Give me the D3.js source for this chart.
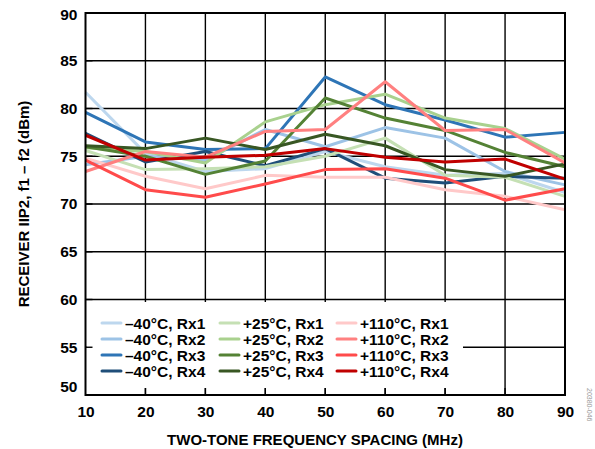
<!DOCTYPE html>
<html>
<head>
<meta charset="utf-8">
<script src="https://cdn.jsdelivr.net/npm/d3@7"></script>
<style>
  body { margin: 0; background: #fff; }
  svg { display: block; font-family: "Liberation Sans", Arial, sans-serif; }
</style>
</head>
<body>
<svg id="chart" width="595" height="449"></svg>
<script>
const freqs = [10, 20, 30, 40, 50, 60, 70, 80, 90];

const m40Rx1 = [81.7, 75.3, 73.4, 73.7, 75.5, 73.9, 73.0, 73.2, 71.2];
const m40Rx2 = [74.1, 75.0, 74.6, 77.8, 76.0, 78.0, 76.9, 73.4, 72.0];
const m40Rx3 = [79.6, 76.5, 75.7, 75.8, 83.3, 80.4, 78.8, 77.0, 77.5];
const m40Rx4 = [77.4, 74.4, 75.5, 74.0, 75.8, 72.7, 72.2, 72.9, 72.7];

const p25Rx1 = [75.6, 73.6, 73.7, 73.9, 75.0, 76.9, 73.0, 72.8, 70.8];
const p25Rx2 = [75.9, 75.5, 74.3, 78.6, 80.4, 81.5, 79.0, 77.9, 74.7];
const p25Rx3 = [76.0, 75.0, 73.1, 74.5, 81.1, 79.0, 77.7, 75.4, 73.9];
const p25Rx4 = [76.1, 75.8, 76.9, 75.7, 77.3, 76.1, 73.6, 72.9, 74.2];

const p110Rx1 = [74.8, 72.9, 71.6, 73.0, 72.8, 72.8, 71.5, 70.8, 69.4];
const p110Rx2 = [73.4, 75.5, 74.9, 77.6, 77.8, 82.8, 77.7, 77.8, 74.3];
const p110Rx3 = [74.6, 71.5, 70.7, 72.1, 73.6, 73.7, 72.7, 70.4, 71.6];
const p110Rx4 = [77.2, 74.6, 74.9, 75.1, 75.8, 74.9, 74.4, 74.7, 72.6];

const seriesNames = [
  "\u201340\u00B0C, Rx1", "\u201340\u00B0C, Rx2", "\u201340\u00B0C, Rx3", "\u201340\u00B0C, Rx4",
  "+25\u00B0C, Rx1", "+25\u00B0C, Rx2", "+25\u00B0C, Rx3", "+25\u00B0C, Rx4",
  "+110\u00B0C, Rx1", "+110\u00B0C, Rx2", "+110\u00B0C, Rx3", "+110\u00B0C, Rx4"
];
const seriesValues = [m40Rx1, m40Rx2, m40Rx3, m40Rx4, p25Rx1, p25Rx2, p25Rx3, p25Rx4,
  p110Rx1, p110Rx2, p110Rx3, p110Rx4];
const seriesColors = ["#bdd7ee", "#9dc3e6", "#2e75b6", "#1f4e79",
  "#c5e0b4", "#a9d18e", "#548235", "#385723",
  "#ffc9c9", "#ff8080", "#ff4b4b", "#c00000"];

const xTicks = [10, 20, 30, 40, 50, 60, 70, 80, 90];
const yTicks = [50, 55, 60, 65, 70, 75, 80, 85, 90];

const svg = d3.select("#chart");
const plotL = 85.5, plotR = 565, plotT = 13, plotB = 395;

const x = d3.scaleLinear().domain([10, 90]).range([plotL, plotR]);
const y = d3.scaleLinear().domain([50, 90]).range([plotB, plotT]);

// gridlines
const grid = svg.append("g").attr("stroke", "#000").attr("stroke-width", 1.4);
grid.selectAll(".gx").data(xTicks.slice(1, -1)).enter().append("line")
  .attr("x1", d => x(d)).attr("x2", d => x(d))
  .attr("y1", plotT).attr("y2", plotB);
grid.selectAll(".gy").data(yTicks.slice(1, -1)).enter().append("line")
  .attr("x1", plotL).attr("x2", plotR)
  .attr("y1", d => y(d)).attr("y2", d => y(d));

// legend background hides gridlines
svg.append("rect")
  .attr("x", plotL + 1).attr("y", 302)
  .attr("width", 463 - plotL - 1).attr("height", 86)
  .attr("fill", "#fff");

// inner ticks
const ticks = svg.append("g").attr("stroke", "#000").attr("stroke-width", 1.4);
ticks.selectAll(".tx").data(xTicks.slice(1, -1)).enter().append("line")
  .attr("x1", d => x(d)).attr("x2", d => x(d))
  .attr("y1", plotB - 7).attr("y2", plotB);
ticks.selectAll(".ty").data(yTicks.slice(1, -1)).enter().append("line")
  .attr("x1", plotL).attr("x2", plotL + 7)
  .attr("y1", d => y(d)).attr("y2", d => y(d));

// lines
const line = d3.line().x((d, i) => x(freqs[i])).y(d => y(d));
svg.append("g").selectAll("path")
  .data(seriesValues).enter().append("path")
  .attr("d", line)
  .attr("fill", "none")
  .attr("stroke", (d, i) => seriesColors[i])
  .attr("stroke-width", 3)
  .attr("stroke-linejoin", "round");

// frame
svg.append("rect")
  .attr("x", plotL).attr("y", plotT)
  .attr("width", plotR - plotL).attr("height", plotB - plotT)
  .attr("fill", "none").attr("stroke", "#000").attr("stroke-width", 2);

// axes labels
const xAxis = svg.append("g")
  .attr("transform", `translate(0,${plotB})`)
  .call(d3.axisBottom(x).tickValues(xTicks).tickSize(0).tickPadding(11));
xAxis.select(".domain").remove();
xAxis.selectAll("text").attr("font-size", 15.5).attr("font-weight", "bold")
  .attr("fill", "#000").attr("font-family", "Liberation Sans, Arial, sans-serif");

const yAxis = svg.append("g")
  .attr("transform", `translate(${plotL},0)`)
  .call(d3.axisLeft(y).tickValues(yTicks).tickSize(0).tickPadding(8));
yAxis.select(".domain").remove();
yAxis.selectAll("text").attr("font-size", 15.5).attr("font-weight", "bold")
  .attr("fill", "#000").attr("font-family", "Liberation Sans, Arial, sans-serif");
yAxis.selectAll(".tick").filter(d => d === 50).select("text").attr("dy", "-0.2em");
yAxis.selectAll(".tick").filter(d => d === 90).select("text").attr("dy", "0.42em");

svg.append("text")
  .attr("x", 315).attr("y", 445)
  .attr("text-anchor", "middle")
  .attr("font-size", 15).attr("font-weight", "bold")
  .text("TWO-TONE FREQUENCY SPACING (MHz)");

svg.append("text")
  .attr("transform", `translate(29,${(plotT + plotB) / 2}) rotate(-90)`)
  .attr("text-anchor", "middle")
  .attr("font-size", 15).attr("font-weight", "bold")
  .text("RECEIVER IIP2, f1 \u2013 f2 (dBm)");

// legend
const legend = svg.append("g");
const colX = [102, 220, 337];
const rowY = [323, 339, 355, 371];
seriesNames.forEach((name, i) => {
  const c = Math.floor(i / 4), r = i % 4;
  const g = legend.append("g").attr("transform", `translate(${colX[c]},${rowY[r]})`);
  g.append("line").attr("x1", 0).attr("x2", 19).attr("y1", 0).attr("y2", 0)
    .attr("stroke", seriesColors[i]).attr("stroke-width", 3).attr("stroke-linecap", "round");
  g.append("text").attr("x", 23).attr("y", 5.5)
    .attr("font-size", 15.5).attr("font-weight", "bold")
    .text(name);
});

svg.append("text")
  .attr("transform", "translate(587,388) rotate(90)")
  .attr("font-size", 7).attr("fill", "#999")
  .text("20380-046");
</script>
</body>
</html>
